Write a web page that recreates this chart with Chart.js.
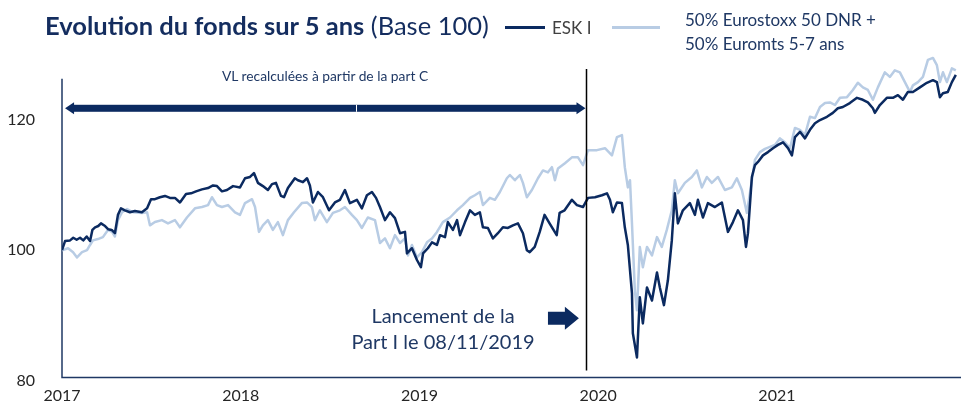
<!DOCTYPE html>
<html lang="fr">
<head>
<meta charset="utf-8">
<title>Evolution du fonds sur 5 ans (Base 100)</title>
<script src="https://cdn.jsdelivr.net/npm/chart.js@4.4.0/dist/chart.umd.min.js"></script>
<style>
  html, body { margin: 0; padding: 0; background: #fff; }
  #wrap { position: relative; width: 962px; height: 405px; font-family: Lato, 'Open Sans', sans-serif; overflow: hidden; }
  #chart { position: absolute; left: 0; top: 0; }
  .txt { position: absolute; white-space: nowrap; line-height: 1; }
  .title { left: 45px; top: 13px; font-size: 25.5px; color: #142d5f; }
  .title b { font-weight: 700; }
  .swatch { position: absolute; }
  .lg-esk { left: 552px; top: 19px; font-size: 17px; color: #404040; }
  .lg-bench { left: 685px; top: 8px; font-size: 17px; line-height: 24px; color: #1f3864; }
  .note-vl { left: 222px; top: 69px; font-size: 13.8px; color: #1f3864; }
  .note-launch { left: 343px; top: 302px; width: 200px; text-align: center; font-size: 20px; line-height: 26px; color: #1f3864; }
</style>
</head>
<body>
<div id="wrap">
  <canvas id="chart" width="962" height="405"></canvas>
  <div class="txt title"><b>Evolution du fonds sur 5 ans</b> (Base 100)</div>
  <div class="swatch" style="left:505px;top:26px;width:40px;height:3px;background:#0b2a60"></div>
  <div class="txt lg-esk">ESK I</div>
  <div class="swatch" style="left:612px;top:26px;width:48px;height:3px;background:#b8cce4"></div>
  <div class="txt lg-bench">50% Eurostoxx 50 DNR +<br>50% Euromts 5-7 ans</div>
  <div class="txt note-vl">VL recalculées à partir de la part C</div>
  <div class="txt note-launch">Lancement de la<br>Part I le 08/11/2019</div>
</div>
<script>
// ESK I vs indice de référence, base 100 début 2017
// dates en années décimales (axe linéaire, pas d'adaptateur date)

var xTicks = [2017, 2018, 2019, 2020, 2021];
var yTicks = [80, 100, 120];

var eskYears = [2017.000, 2017.017, 2017.045, 2017.063, 2017.082, 2017.101, 2017.119, 2017.138, 2017.157, 2017.170,
  2017.185, 2017.203, 2017.218, 2017.241, 2017.259, 2017.278, 2017.296, 2017.313, 2017.330, 2017.352,
  2017.380, 2017.408, 2017.447, 2017.476, 2017.498, 2017.520, 2017.548, 2017.576, 2017.604, 2017.632,
  2017.660, 2017.694, 2017.722, 2017.750, 2017.783, 2017.817, 2017.845, 2017.867, 2017.895, 2017.923,
  2017.957, 2017.996, 2018.024, 2018.052, 2018.074, 2018.096, 2018.124, 2018.152, 2018.175, 2018.197,
  2018.225, 2018.242, 2018.264, 2018.287, 2018.303, 2018.320, 2018.348, 2018.371, 2018.387, 2018.404,
  2018.432, 2018.460, 2018.494, 2018.527, 2018.555, 2018.583, 2018.611, 2018.650, 2018.678, 2018.706,
  2018.734, 2018.757, 2018.779, 2018.807, 2018.835, 2018.863, 2018.891, 2018.919, 2018.930, 2018.958,
  2018.986, 2019.008, 2019.020, 2019.047, 2019.070, 2019.098, 2019.115, 2019.143, 2019.159, 2019.187,
  2019.210, 2019.227, 2019.255, 2019.283, 2019.310, 2019.338, 2019.355, 2019.383, 2019.411, 2019.439,
  2019.467, 2019.495, 2019.523, 2019.551, 2019.579, 2019.601, 2019.617, 2019.645, 2019.673, 2019.700,
  2019.728, 2019.768, 2019.784, 2019.812, 2019.853, 2019.881, 2019.915, 2019.943, 2019.982, 2020.021,
  2020.049, 2020.066, 2020.082, 2020.105, 2020.133, 2020.149, 2020.166, 2020.189, 2020.194, 2020.217,
  2020.233, 2020.250, 2020.273, 2020.301, 2020.329, 2020.345, 2020.368, 2020.390, 2020.412, 2020.429,
  2020.446, 2020.474, 2020.513, 2020.541, 2020.558, 2020.586, 2020.614, 2020.653, 2020.692, 2020.726,
  2020.754, 2020.782, 2020.810, 2020.827, 2020.838, 2020.860, 2020.877, 2020.894, 2020.922, 2020.950,
  2020.978, 2021.006, 2021.034, 2021.062, 2021.084, 2021.101, 2021.129, 2021.157, 2021.185, 2021.213,
  2021.241, 2021.280, 2021.313, 2021.341, 2021.369, 2021.408, 2021.448, 2021.481, 2021.509, 2021.537,
  2021.548, 2021.576, 2021.615, 2021.649, 2021.677, 2021.705, 2021.733, 2021.761, 2021.800, 2021.839,
  2021.873, 2021.895, 2021.912, 2021.929, 2021.956, 2021.979, 2022.001];

var eskValues = [100.0, 101.4, 101.5, 101.9, 101.6, 101.9, 101.5, 102.1, 101.4, 103.1,
  103.5, 103.7, 104.1, 103.7, 103.2, 103.1, 102.6, 105.4, 106.4, 106.1,
  105.8, 106.0, 105.8, 106.4, 107.8, 107.8, 108.1, 108.3, 108.0, 108.0,
  107.3, 108.6, 108.7, 109.0, 109.3, 109.5, 109.9, 109.8, 109.0, 109.2,
  109.8, 109.6, 111.0, 111.2, 111.8, 110.3, 109.8, 109.2, 110.1, 110.3,
  108.3, 108.1, 109.5, 110.4, 111.0, 110.7, 110.4, 111.0, 109.9, 107.3,
  108.9, 108.1, 106.1, 107.3, 107.7, 109.2, 107.2, 107.7, 106.4, 108.4,
  108.9, 108.0, 106.6, 104.6, 105.8, 104.9, 102.6, 102.8, 99.5, 100.3,
  98.5, 97.4, 99.5, 100.3, 101.2, 100.8, 102.3, 102.0, 104.3, 103.1,
  104.6, 102.3, 104.3, 106.1, 105.4, 105.8, 103.5, 103.4, 101.8, 102.6,
  103.5, 103.4, 103.8, 104.1, 102.6, 100.0, 99.7, 100.5, 102.8, 105.4,
  104.1, 102.3, 105.7, 106.1, 107.7, 106.9, 106.6, 108.0, 108.1, 108.4,
  108.7, 107.7, 105.8, 107.3, 107.2, 103.5, 100.8, 93.4, 87.3, 83.6,
  92.8, 88.8, 94.3, 92.3, 96.6, 94.3, 91.6, 95.4, 101.5, 108.7,
  104.1, 106.1, 107.2, 105.4, 107.7, 105.0, 107.2, 106.6, 107.3, 102.8,
  104.3, 106.1, 104.6, 100.5, 102.6, 111.2, 113.0, 113.5, 114.5, 115.0,
  115.6, 116.1, 116.5, 115.6, 114.5, 117.3, 118.1, 117.1, 118.4, 119.4,
  119.9, 120.4, 121.0, 121.7, 121.9, 122.5, 123.3, 123.0, 122.6, 121.7,
  121.0, 122.2, 123.3, 123.3, 123.7, 123.0, 124.2, 124.2, 124.9, 125.6,
  126.0, 125.7, 123.4, 124.0, 124.2, 125.7, 126.8];

var benchYears = [2017.000, 2017.034, 2017.062, 2017.084, 2017.112, 2017.140, 2017.157, 2017.173, 2017.201, 2017.229,
  2017.257, 2017.280, 2017.296, 2017.313, 2017.336, 2017.364, 2017.397, 2017.447, 2017.476, 2017.492,
  2017.520, 2017.559, 2017.593, 2017.632, 2017.660, 2017.699, 2017.744, 2017.783, 2017.817, 2017.839,
  2017.867, 2017.895, 2017.929, 2017.968, 2017.996, 2018.024, 2018.063, 2018.080, 2018.102, 2018.124,
  2018.152, 2018.180, 2018.208, 2018.236, 2018.264, 2018.298, 2018.342, 2018.371, 2018.398, 2018.415,
  2018.443, 2018.482, 2018.516, 2018.555, 2018.583, 2018.622, 2018.650, 2018.678, 2018.711, 2018.751,
  2018.779, 2018.807, 2018.835, 2018.863, 2018.891, 2018.919, 2018.936, 2018.958, 2018.986, 2019.014,
  2019.042, 2019.070, 2019.098, 2019.131, 2019.171, 2019.210, 2019.243, 2019.283, 2019.310, 2019.338,
  2019.355, 2019.394, 2019.422, 2019.450, 2019.489, 2019.506, 2019.534, 2019.562, 2019.579, 2019.601,
  2019.629, 2019.663, 2019.691, 2019.719, 2019.741, 2019.758, 2019.775, 2019.814, 2019.853, 2019.887,
  2019.915, 2019.943, 2019.993, 2020.038, 2020.077, 2020.105, 2020.133, 2020.149, 2020.166, 2020.178,
  2020.189, 2020.205, 2020.217, 2020.233, 2020.250, 2020.273, 2020.301, 2020.329, 2020.356, 2020.384,
  2020.412, 2020.429, 2020.446, 2020.485, 2020.524, 2020.552, 2020.580, 2020.608, 2020.636, 2020.670,
  2020.709, 2020.748, 2020.776, 2020.804, 2020.832, 2020.849, 2020.877, 2020.905, 2020.933, 2020.961,
  2020.989, 2021.017, 2021.045, 2021.073, 2021.101, 2021.129, 2021.157, 2021.185, 2021.213, 2021.241,
  2021.269, 2021.297, 2021.325, 2021.353, 2021.392, 2021.425, 2021.453, 2021.481, 2021.509, 2021.537,
  2021.565, 2021.604, 2021.632, 2021.660, 2021.688, 2021.716, 2021.744, 2021.761, 2021.789, 2021.817,
  2021.845, 2021.873, 2021.895, 2021.912, 2021.929, 2021.951, 2021.979, 2022.001];

var benchValues = [100.0, 100.3, 99.7, 98.9, 99.7, 100.0, 100.8, 101.5, 101.7, 102.0,
  103.1, 102.8, 102.1, 104.6, 105.8, 106.3, 105.8, 105.7, 105.8, 103.8,
  104.3, 104.6, 104.1, 104.6, 103.5, 105.0, 106.4, 106.6, 106.9, 108.1,
  106.9, 106.6, 106.9, 105.8, 105.4, 107.2, 107.8, 106.6, 102.8, 103.8,
  104.6, 103.1, 104.3, 102.3, 104.6, 105.8, 107.2, 107.3, 106.6, 104.6,
  106.1, 104.3, 105.7, 106.1, 106.6, 105.4, 104.6, 103.4, 105.0, 104.6,
  101.1, 101.8, 100.3, 102.3, 101.1, 101.8, 99.2, 100.8, 98.9, 99.7,
  101.2, 101.8, 102.8, 104.3, 105.0, 106.1, 106.9, 108.0, 108.4, 108.9,
  106.9, 108.0, 107.7, 108.9, 111.0, 111.5, 110.7, 111.5, 110.3, 108.1,
  109.2, 111.0, 112.2, 111.9, 112.7, 110.7, 112.5, 113.3, 114.2, 114.2,
  113.0, 115.3, 115.3, 115.6, 114.5, 117.3, 117.6, 112.7, 109.6, 110.7,
  104.1, 93.9, 90.8, 100.5, 97.4, 100.5, 99.2, 102.0, 100.5, 103.1,
  106.1, 110.7, 108.7, 110.3, 111.2, 112.2, 109.6, 111.2, 110.3, 111.2,
  109.2, 109.6, 111.0, 109.2, 105.7, 108.7, 113.8, 115.0, 115.5, 115.8,
  116.1, 117.1, 116.5, 115.6, 118.7, 118.4, 117.6, 120.4, 120.2, 121.9,
  122.5, 122.6, 122.2, 123.3, 123.4, 124.5, 125.6, 124.9, 124.5, 123.0,
  124.9, 127.2, 126.5, 127.5, 127.2, 125.7, 124.2, 125.2, 125.7, 126.5,
  129.1, 129.4, 128.3, 125.7, 127.2, 125.7, 127.8, 127.5];

// repères (unités des axes)
var LAUNCH_X = 2019.93;      // trait vertical lancement part I
var ARROW_FROM = 2017.017;   // début flèche "VL recalculées"
var ARROW_LEVEL = 121.7;
var BLOCK_FROM = 2019.719;   // flèche pleine vers le trait
var BLOCK_TO = 2019.892;
var BLOCK_LEVEL = 89.6;
var AXIS_TOP = 126.2;
var AXIS_BASE = 80.55;

var NAVY = '#0b2a60';
var LIGHT = '#b8cce4';

function toPoints(xs, ys) {
  return xs.map(function (x, i) { return { x: x, y: ys[i] }; });
}

var guides = {
  id: 'guides',
  beforeDatasetsDraw: function (chart) {
    var ctx = chart.ctx, x = chart.scales.x, y = chart.scales.y;
    ctx.save();
    ctx.strokeStyle = '#1f3864';
    ctx.lineWidth = 1.5;
    ctx.beginPath();
    ctx.moveTo(x.left, y.getPixelForValue(AXIS_TOP));
    ctx.lineTo(x.left, y.getPixelForValue(AXIS_BASE));
    ctx.lineTo(x.right, y.getPixelForValue(AXIS_BASE));
    ctx.stroke();
    ctx.restore();
  },
  afterDatasetsDraw: function (chart) {
    var ctx = chart.ctx, x = chart.scales.x, y = chart.scales.y;
    ctx.save();

    // trait vertical
    var lx = Math.round(x.getPixelForValue(LAUNCH_X)) + 0.5;
    ctx.strokeStyle = '#000';
    ctx.lineWidth = 1.5;
    ctx.beginPath();
    ctx.moveTo(lx, y.getPixelForValue(127.7));
    ctx.lineTo(lx, y.getPixelForValue(81.6));
    ctx.stroke();

    // double flèche
    var ay = y.getPixelForValue(ARROW_LEVEL);
    var x0 = x.getPixelForValue(ARROW_FROM), x1 = lx - 1;
    ctx.fillStyle = NAVY;
    ctx.fillRect(x0 + 8, ay - 3.5, x1 - x0 - 16, 7);
    ctx.beginPath();
    ctx.moveTo(x0, ay); ctx.lineTo(x0 + 9, ay - 6); ctx.lineTo(x0 + 9, ay + 6);
    ctx.closePath(); ctx.fill();
    ctx.beginPath();
    ctx.moveTo(x1, ay); ctx.lineTo(x1 - 9, ay - 6); ctx.lineTo(x1 - 9, ay + 6);
    ctx.closePath(); ctx.fill();
    var seam = x.getPixelForValue(2018.645);
    ctx.fillStyle = '#fff';
    ctx.fillRect(seam, ay - 3.5, 1, 7);

    // flèche pleine
    var cy = y.getPixelForValue(BLOCK_LEVEL);
    var tail = x.getPixelForValue(BLOCK_FROM), tip = x.getPixelForValue(BLOCK_TO);
    ctx.fillStyle = NAVY;
    ctx.beginPath();
    ctx.moveTo(tail, cy - 6.5);
    ctx.lineTo(tip - 14, cy - 6.5);
    ctx.lineTo(tip - 14, cy - 11.5);
    ctx.lineTo(tip, cy);
    ctx.lineTo(tip - 14, cy + 11.5);
    ctx.lineTo(tip - 14, cy + 6.5);
    ctx.lineTo(tail, cy + 6.5);
    ctx.closePath();
    ctx.fill();

    ctx.restore();
  }
};

var tickFont = { family: 'Lato, "Open Sans", sans-serif', size: 16 };

new Chart(document.getElementById('chart'), {
  type: 'line',
  data: {
    datasets: [
      {
        label: 'ESK I',
        data: toPoints(eskYears, eskValues),
        borderColor: NAVY,
        borderWidth: 2.5,
        pointRadius: 0,
        tension: 0,
        borderJoinStyle: 'round'
      },
      {
        label: '50% Eurostoxx 50 DNR + 50% Euromts 5-7 ans',
        data: toPoints(benchYears, benchValues),
        borderColor: LIGHT,
        borderWidth: 2.5,
        pointRadius: 0,
        tension: 0,
        borderJoinStyle: 'round'
      }
    ]
  },
  options: {
    responsive: false,
    animation: false,
    devicePixelRatio: 1,
    layout: { padding: { top: 54, right: 1, left: 0, bottom: 0 } },
    plugins: {
      legend: { display: false },
      tooltip: { enabled: false }
    },
    scales: {
      x: {
        type: 'linear',
        min: 2017,
        max: 2022.03,
        grid: { display: false, drawTicks: false },
        border: { display: false },
        ticks: {
          font: tickFont,
          color: '#262626',
          padding: 5,
          maxRotation: 0,
          autoSkip: false,
          callback: function (v) { return String(v); }
        },
        afterBuildTicks: function (s) { s.ticks = xTicks.map(function (v) { return { value: v }; }); },
        afterFit: function (s) { s.height = 24; }
      },
      y: {
        min: 80,
        max: 130,
        grid: { display: false, drawTicks: false },
        border: { display: false },
        ticks: { font: tickFont, color: '#262626', padding: 27 },
        afterBuildTicks: function (s) { s.ticks = yTicks.map(function (v) { return { value: v }; }); },
        // la padding des ticks ne doit pas rogner la zone de tracé en bas
        afterFit: function (s) { s.width = 62; s.paddingTop = 0; s.paddingBottom = 0; }
      }
    }
  },
  plugins: [guides]
});
</script>
</body>
</html>
